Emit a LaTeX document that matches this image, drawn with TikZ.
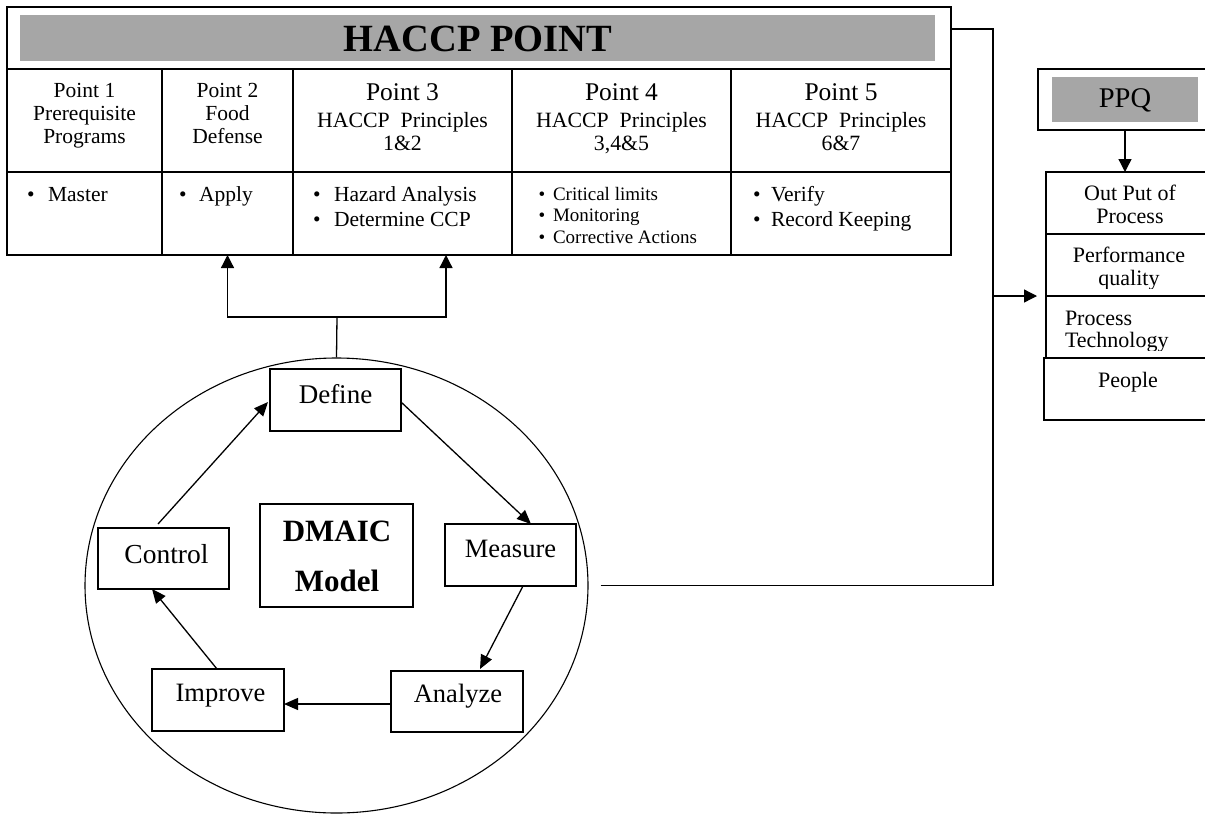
\documentclass[tikz,border=0pt]{standalone}
\usepackage{fontspec}
\setmainfont{Liberation Serif}
\usetikzlibrary{arrows.meta,shapes.geometric}
\definecolor{bargray}{HTML}{A6A6A6}
\newcommand\fsz[1]{\fontsize{#1}{#1}\selectfont}
% rectangle node from its two corners: [options]{name}{x1}{y1}{x2}{y2}
\newcommand\mkcell[6][]{\node[box,#1,minimum width={#5-#3},minimum height={#6-#4}] (#2) at ({(#3+#5)/2},{(#4+#6)/2}) {};}
% text line on a baseline: {name}{x}{y}{size}{text}
\newcommand\lbl[5]{\node[lab] (#1) at (#2,#3) {\fsz{#4}#5};}
\newcommand\lblw[5]{\node[labw] (#1) at (#2,#3) {\fsz{#4}#5};}
% bullet item: {name}{bullet x}{text x}{y}{size}{text}
\newcommand\bitem[6]{\node[lab] (#1d) at (#2,#4) {\fsz{#5}\textbullet};\node[labw] (#1) at (#3,#4) {\fsz{#5}#6};}
\begin{document}
\begin{tikzpicture}[x=1pt,y=-1pt,
  box/.style={draw,rectangle,line width=1.3pt,inner sep=0pt,outer sep=0pt,fill=white},
  bar/.style={fill=bargray,draw=none,inner sep=0pt,outer sep=0pt},
  lab/.style={inner sep=0pt,outer sep=0pt,anchor=base},
  labw/.style={inner sep=0pt,outer sep=0pt,anchor=base west},
  tri/.style={-{Triangle[length=13pt,width=13pt]},line width=1.3pt},
  dtri/.style={-{Triangle[length=14pt,width=12pt]},line width=1.3pt}]
\useasboundingbox (0,0) rectangle (1205,815);
\fill[white] (0,0) rectangle (1205,815);
\clip (0,0) rectangle (1205,815);

% ---------- HACCP table ----------
\mkcell{frame}{7}{7}{951}{255}
\node[bar,minimum width=915,minimum height=46] (titlebar) at (477.5,38) {};
\node[lab] (title) at (478,51) {\fsz{38.5}\bfseries HACCP POINT};

\mkcell{p1h}{7}{69}{162}{172}
\mkcell{p2h}{162}{69}{293}{172}
\mkcell{p3h}{293}{69}{512}{172}
\mkcell{p4h}{512}{69}{731}{172}
\mkcell{p5h}{731}{69}{951}{172}
\mkcell{p1b}{7}{172}{162}{255}
\mkcell{p2b}{162}{172}{293}{255}
\mkcell{p3b}{293}{172}{512}{255}
\mkcell{p4b}{512}{172}{731}{255}
\mkcell{p5b}{731}{172}{951}{255}

\lbl{h1a}{84.5}{97}{21.5}{Point 1}
\lbl{h1b}{84.5}{120}{21.5}{Prerequisite}
\lbl{h1c}{84.5}{143}{21.5}{Programs}
\lbl{h2a}{227.5}{97}{21.5}{Point 2}
\lbl{h2b}{227.5}{120}{21.5}{Food}
\lbl{h2c}{227.5}{143}{21.5}{Defense}
\lbl{h3a}{402.5}{100}{25.5}{Point 3}
\lbl{h3b}{402.5}{127}{21.8}{HACCP\ \ Principles}
\lbl{h3c}{402.5}{150}{21.8}{1\&2}
\lbl{h4a}{621.5}{100}{25.5}{Point 4}
\lbl{h4b}{621.5}{127}{21.8}{HACCP\ \ Principles}
\lbl{h4c}{621.5}{150}{21.8}{3,4\&5}
\lbl{h5a}{841}{100}{25.5}{Point 5}
\lbl{h5b}{841}{127}{21.8}{HACCP\ \ Principles}
\lbl{h5c}{841}{150}{21.8}{6\&7}

\bitem{b1a}{31}{48}{201}{21.5}{Master}
\bitem{b2a}{183}{199}{201}{21.5}{Apply}
\bitem{b3a}{317}{334}{201}{21.5}{Hazard Analysis}
\bitem{b3b}{317}{334}{226}{21.5}{Determine CCP}
\bitem{b4a}{542}{553}{200}{19}{Critical limits}
\bitem{b4b}{542}{553}{221}{19}{Monitoring}
\bitem{b4c}{542}{553}{243}{19}{Corrective Actions}
\bitem{b5a}{757}{771}{201}{21.5}{Verify}
\bitem{b5b}{757}{771}{226}{21.5}{Record Keeping}

% ---------- DMAIC cycle ----------
\node[draw,ellipse,line width=1.1pt,inner sep=0pt,minimum width=503,minimum height=455] (dmaic) at (336.5,585.5) {};

\mkcell{define}{270}{369}{401}{431}
\mkcell{measure}{445}{524}{576}{586}
\mkcell{analyze}{391}{671}{523}{732}
\mkcell{improve}{152}{669}{284}{731}
\mkcell{control}{98}{528}{229}{589}
\mkcell{model}{260}{504}{413}{607}

\lbl{tdefine}{335.5}{403}{27}{Define}
\lbl{tmeasure}{510.5}{557}{26.5}{Measure}
\lbl{tanalyze}{458}{702}{26.5}{Analyze}
\lbl{timprove}{220.5}{701}{26.5}{Improve}
\lbl{tcontrol}{166.5}{563}{27.5}{Control}
\node[lab] (tdmaic) at (337,541) {\fsz{31}\bfseries DMAIC};
\node[lab] (tmodel) at (337,591) {\fsz{31}\bfseries Model};

\draw[dtri] ([yshift=-2pt]define.east) -- ([xshift=20.5pt]measure.north);
\draw[dtri] ([xshift=12.5pt]measure.south) -- ([xshift=23pt,yshift=2pt]analyze.north);
\draw[dtri] ([yshift=-2.5pt]analyze.west) -- ([yshift=-2.5pt]analyze.west -| improve.east);
\draw[dtri] ([xshift=-1pt]improve.north) -- ([xshift=-11.5pt]control.south);
\draw[dtri] ([xshift=-5.5pt,yshift=4pt]control.north) -- ([xshift=-2pt,yshift=-2pt]define.west);

% DMAIC feeds Points 2 and 3
\coordinate (split) at (337,317);
\coordinate (la) at (227.5,317);
\coordinate (ra) at (446,317);
\draw[line width=1.3pt] (dmaic.north) -- (split);
\draw[tri] (split) -- (la) -- (la |- p2b.south);
\draw[tri] (split) -- (ra) -- (ra |- p3b.south);

% ---------- PPQ ----------
\mkcell{ppq}{1038}{69}{1212}{130}
\node[bar,minimum width=146,minimum height=45] (ppqbar) at (1125,99.5) {};
\lbl{tppq}{1125}{107}{28.5}{PPQ}

\mkcell{out}{1046}{172}{1212}{234}
\mkcell{perf}{1046}{234}{1212}{296}
\mkcell{tech}{1046}{296}{1212}{358}
\mkcell{people}{1044}{358}{1212}{420}

\lbl{tout}{1130}{200}{22}{Out Put of}
\lbl{tproc}{1130}{223}{22}{Process}
\lbl{tperf}{1129}{262}{22}{Performance}
\begin{scope}
  \clip (1046,236) rectangle (1212,288);
  \lbl{tqual}{1129}{285}{22}{quality}
\end{scope}
\lblw{tproc2}{1065}{325}{22}{Process}
\begin{scope}
  \clip (1046,298) rectangle (1212,350);
  \lblw{ttech}{1065}{347}{22}{Technology}
\end{scope}
\lbl{tpeople}{1128}{387}{22}{People}

\draw[tri] (ppqbar.south |- ppq.south) -- (ppqbar.south |- out.north);

% ---------- link between the blocks ----------
\coordinate (bus) at (993,29);
\draw[line width=1.3pt] ([xshift=12pt]dmaic.east) -- (bus |- dmaic.east) -- (bus) -- (bus -| frame.east);
\draw[tri] (bus |- perf.south) -- ([xshift=-9pt]perf.south west);
\end{tikzpicture}
\end{document}
